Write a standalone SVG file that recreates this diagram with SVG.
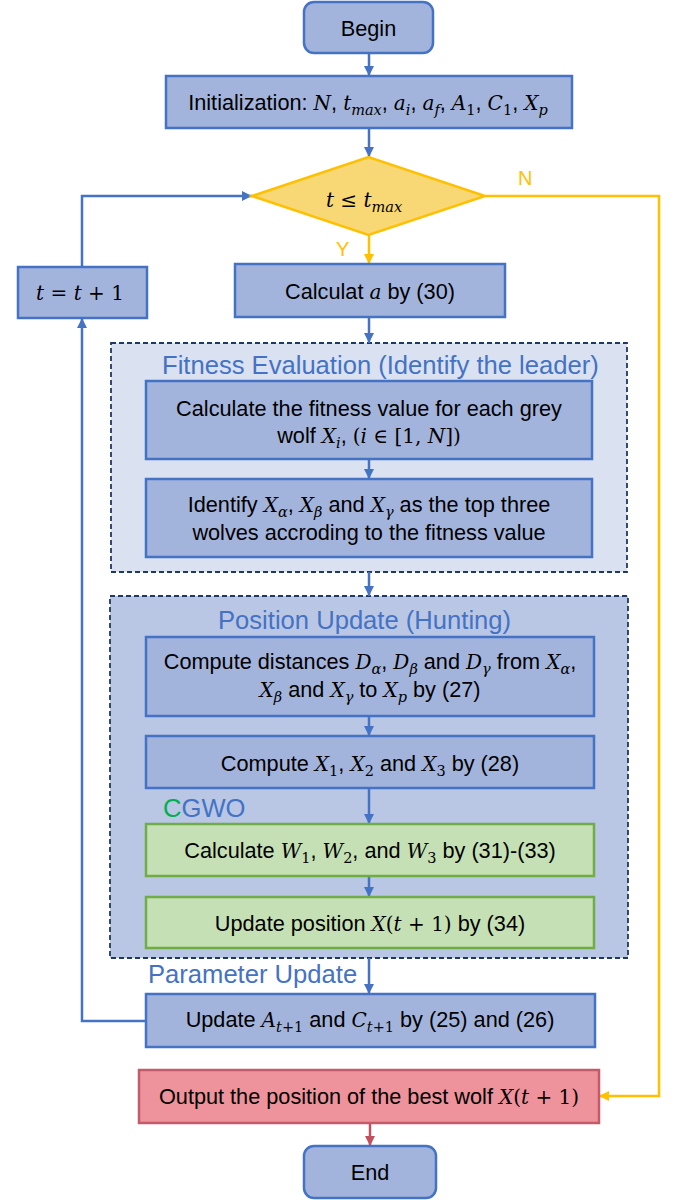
<svg xmlns="http://www.w3.org/2000/svg" width="681" height="1200" viewBox="0 0 681 1200">
<defs>
<style>
.node{fill:#A3B4DC;stroke:#4472C4;stroke-width:2.5}
.green{fill:#C5E0B4;stroke:#70AD47;stroke-width:2.5}
.red{fill:#EE929C;stroke:#C55A6B;stroke-width:2.5}
.dia{fill:#F8D775;stroke:#FFC000;stroke-width:2.5}
.grp1{fill:#DAE1F1;stroke:#1F3864;stroke-width:1.8;stroke-dasharray:5 3}
.grp2{fill:#B9C7E5;stroke:#1F3864;stroke-width:1.8;stroke-dasharray:5 3}
.t{font-family:"Liberation Sans",Arial,sans-serif;font-size:21.7px;fill:#000;text-anchor:middle}
.title{font-family:"Liberation Sans",Arial,sans-serif;font-size:25.6px;fill:#4472C4}
.m{font-family:"DejaVu Serif",serif;font-style:italic;font-size:20px}
.mu{font-family:"DejaVu Serif",serif;font-size:20px}
.ms{font-family:"DejaVu Serif",serif;font-style:italic;font-size:14.5px}
.ns{font-family:"DejaVu Serif",serif;font-size:14.5px}
.c{fill:none;stroke:#4472C4;stroke-width:2.5}
.cy{fill:none;stroke:#FFC000;stroke-width:2.5}
.cr{fill:none;stroke:#C0505D;stroke-width:2.5}
.lab{font-family:"Liberation Sans",Arial,sans-serif;font-size:20px;fill:#FFC000}
</style>
<marker id="ab" viewBox="0 0 10 10" refX="10" refY="5" markerWidth="10" markerHeight="10" markerUnits="userSpaceOnUse" orient="auto"><path d="M0,0 L10,5 L0,10 z" fill="#4472C4"/></marker>
<marker id="ay" viewBox="0 0 10 10" refX="10" refY="5" markerWidth="10" markerHeight="10" markerUnits="userSpaceOnUse" orient="auto"><path d="M0,0 L10,5 L0,10 z" fill="#FFC000"/></marker>
<marker id="ar" viewBox="0 0 10 10" refX="10" refY="5" markerWidth="10" markerHeight="10" markerUnits="userSpaceOnUse" orient="auto"><path d="M0,0 L10,5 L0,10 z" fill="#C0505D"/></marker>
</defs>

<g id="group-fitness">
<rect class="grp1" x="111" y="343" width="516" height="229"/>
<text class="title" x="162" y="374">Fitness Evaluation (Identify the leader)</text>
</g>
<g id="group-position">
<rect class="grp2" x="110" y="596" width="518" height="362"/>
<text class="title" x="218" y="629">Position Update (Hunting)</text>
<text class="title" x="163" y="817"><tspan fill="#00B050">C</tspan>GWO</text>
</g>
<g id="label-parameter">
<text class="title" x="148" y="983">Parameter Update</text>
</g>

<g id="connectors">
<line class="c" x1="369" y1="53" x2="369" y2="76" marker-end="url(#ab)"/>
<line class="c" x1="369" y1="128" x2="369" y2="157" marker-end="url(#ab)"/>
<line class="cy" x1="369" y1="235" x2="369" y2="264" marker-end="url(#ay)"/>
<line class="c" x1="369" y1="317" x2="369" y2="343" marker-end="url(#ab)"/>
<line class="c" x1="369" y1="459" x2="369" y2="479" marker-end="url(#ab)"/>
<line class="c" x1="369" y1="572" x2="369" y2="596" marker-end="url(#ab)"/>
<line class="c" x1="369" y1="716" x2="369" y2="736" marker-end="url(#ab)"/>
<line class="c" x1="369" y1="788" x2="369" y2="824" marker-end="url(#ab)"/>
<line class="c" x1="369" y1="876" x2="369" y2="897" marker-end="url(#ab)"/>
<line class="c" x1="369" y1="958" x2="369" y2="994" marker-end="url(#ab)"/>
<polyline class="c" points="146,1021 82,1021 82,318" marker-end="url(#ab)"/>
<polyline class="c" points="82,267 82,196 252,196" marker-end="url(#ab)"/>
<polyline class="cy" points="485,196 659,196 659,1096 599,1096" marker-end="url(#ay)"/>
<line class="cr" x1="370" y1="1123" x2="370" y2="1146" marker-end="url(#ar)"/>
<text class="lab" x="518" y="185">N</text>
<text class="lab" x="336" y="256">Y</text>
</g>

<g id="begin">
<rect class="node" x="304" y="2" width="129" height="51" rx="10"/>
<text class="t" x="368.5" y="36">Begin</text>
</g>
<g id="init">
<rect class="node" x="166" y="76" width="406" height="52"/>
<text class="t" x="368" y="110">Initialization: <tspan class="m">N</tspan>, <tspan class="m">t</tspan><tspan class="ms" dy="5">max</tspan><tspan dy="-5">, </tspan><tspan class="m">a</tspan><tspan class="ms" dy="5">i</tspan><tspan dy="-5">, </tspan><tspan class="m">a</tspan><tspan class="ms" dy="5">f</tspan><tspan dy="-5">, </tspan><tspan class="m">A</tspan><tspan class="ns" dy="5">1</tspan><tspan dy="-5">, </tspan><tspan class="m">C</tspan><tspan class="ns" dy="5">1</tspan><tspan dy="-5">, </tspan><tspan class="m">X</tspan><tspan class="ms" dy="5">p</tspan></text>
</g>
<g id="decision">
<polygon class="dia" points="252,196 368.5,157 485,196 368.5,235"/>
<text class="t" x="364" y="207"><tspan class="m">t</tspan><tspan class="mu"> ≤ </tspan><tspan class="m">t</tspan><tspan class="ms" dy="5">max</tspan></text>
</g>
<g id="increment">
<rect class="node" x="18" y="267" width="129" height="51"/>
<text class="t" x="80" y="300"><tspan class="m">t</tspan><tspan class="mu"> = </tspan><tspan class="m">t</tspan><tspan class="mu"> + 1</tspan></text>
</g>
<g id="calc-a">
<rect class="node" x="235" y="264" width="270" height="53"/>
<text class="t" x="370" y="299">Calculat <tspan class="m">a</tspan> by (30)</text>
</g>
<g id="fitness-calc">
<rect class="node" x="146" y="381" width="446" height="78"/>
<text class="t" x="369" y="416">Calculate the fitness value for each grey</text>
<text class="t" x="369" y="443">wolf <tspan class="m">X</tspan><tspan class="ms" dy="5">i</tspan><tspan dy="-5">, </tspan><tspan class="mu">(</tspan><tspan class="m">i</tspan><tspan class="mu"> ∈ [1, </tspan><tspan class="m">N</tspan><tspan class="mu">])</tspan></text>
</g>
<g id="identify">
<rect class="node" x="146" y="479" width="446" height="78"/>
<text class="t" x="369" y="512">Identify <tspan class="m">X</tspan><tspan class="ms" dy="5">α</tspan><tspan dy="-5">, </tspan><tspan class="m">X</tspan><tspan class="ms" dy="5">β</tspan><tspan dy="-5"> and </tspan><tspan class="m">X</tspan><tspan class="ms" dy="5">γ</tspan><tspan dy="-5"> as the top three</tspan></text>
<text class="t" x="369" y="540">wolves accroding to the fitness value</text>
</g>
<g id="distances">
<rect class="node" x="146" y="637" width="448" height="79"/>
<text class="t" x="370" y="669">Compute distances <tspan class="m">D</tspan><tspan class="ms" dy="5">α</tspan><tspan dy="-5">, </tspan><tspan class="m">D</tspan><tspan class="ms" dy="5">β</tspan><tspan dy="-5"> and </tspan><tspan class="m">D</tspan><tspan class="ms" dy="5">γ</tspan><tspan dy="-5"> from </tspan><tspan class="m">X</tspan><tspan class="ms" dy="5">α</tspan><tspan dy="-5">,</tspan></text>
<text class="t" x="370" y="697"><tspan class="m">X</tspan><tspan class="ms" dy="5">β</tspan><tspan dy="-5"> and </tspan><tspan class="m">X</tspan><tspan class="ms" dy="5">γ</tspan><tspan dy="-5"> to </tspan><tspan class="m">X</tspan><tspan class="ms" dy="5">p</tspan><tspan dy="-5"> by (27)</tspan></text>
</g>
<g id="compute-x">
<rect class="node" x="146" y="736" width="448" height="52"/>
<text class="t" x="370" y="771">Compute <tspan class="m">X</tspan><tspan class="ns" dy="5">1</tspan><tspan dy="-5">, </tspan><tspan class="m">X</tspan><tspan class="ns" dy="5">2</tspan><tspan dy="-5"> and </tspan><tspan class="m">X</tspan><tspan class="ns" dy="5">3</tspan><tspan dy="-5"> by (28)</tspan></text>
</g>
<g id="calc-w">
<rect class="green" x="146" y="824" width="448" height="52"/>
<text class="t" x="370" y="858">Calculate <tspan class="m">W</tspan><tspan class="ns" dy="5">1</tspan><tspan dy="-5">, </tspan><tspan class="m">W</tspan><tspan class="ns" dy="5">2</tspan><tspan dy="-5">, and </tspan><tspan class="m">W</tspan><tspan class="ns" dy="5">3</tspan><tspan dy="-5"> by (31)-(33)</tspan></text>
</g>
<g id="update-pos">
<rect class="green" x="146" y="897" width="448" height="51"/>
<text class="t" x="370" y="931">Update position <tspan class="m">X</tspan><tspan class="mu">(</tspan><tspan class="m">t</tspan><tspan class="mu"> + 1)</tspan> by (34)</text>
</g>
<g id="update-param">
<rect class="node" x="146" y="994" width="449" height="53"/>
<text class="t" x="370" y="1027">Update <tspan class="m">A</tspan><tspan class="ms" dy="5">t</tspan><tspan class="ns">+1</tspan><tspan dy="-5"> and </tspan><tspan class="m">C</tspan><tspan class="ms" dy="5">t</tspan><tspan class="ns">+1</tspan><tspan dy="-5"> by (25) and (26)</tspan></text>
</g>
<g id="output">
<rect class="red" x="139" y="1070" width="460" height="53"/>
<text class="t" x="369" y="1104">Output the position of the best wolf <tspan class="m">X</tspan><tspan class="mu">(</tspan><tspan class="m">t</tspan><tspan class="mu"> + 1)</tspan></text>
</g>
<g id="end">
<rect class="node" x="304" y="1146" width="132" height="52" rx="10"/>
<text class="t" x="370" y="1180">End</text>
</g>
</svg>
